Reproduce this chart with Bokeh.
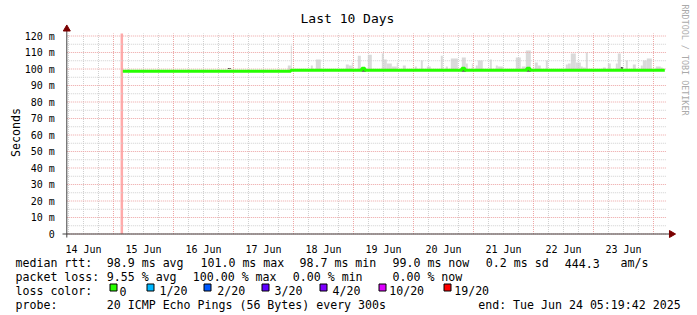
import math
import pandas as pd
from bokeh.plotting import figure
from bokeh.models import Range1d, FixedTicker, CustomJSTickFormatter, ColumnDataSource
from bokeh.core.properties import value
from bokeh.embed import file_html
from bokeh.resources import INLINE

# ---------------- data ----------------
title_text = "Last 10 Days"
y_axis_label = "Seconds"
watermark = "RRDTOOL / TOBI OETIKER"
graph_start = "2025-06-14 05:19:42"
graph_end = "2025-06-24 05:19:42"

day_tick_times = ["2025-06-14 12:00", "2025-06-15 12:00", "2025-06-16 12:00", "2025-06-17 12:00",
                  "2025-06-18 12:00", "2025-06-19 12:00", "2025-06-20 12:00", "2025-06-21 12:00",
                  "2025-06-22 12:00", "2025-06-23 12:00"]
day_labels = ["14 Jun", "15 Jun", "16 Jun", "17 Jun", "18 Jun", "19 Jun", "20 Jun", "21 Jun", "22 Jun", "23 Jun"]

y_ticks_s = [0.00, 0.01, 0.02, 0.03, 0.04, 0.05, 0.06, 0.07, 0.08, 0.09, 0.10, 0.11, 0.12]
y_tick_labels = ["0", "10 m", "20 m", "30 m", "40 m", "50 m", "60 m", "70 m", "80 m", "90 m",
                 "100 m", "110 m", "120 m"]

# median rtt (ms), step series
median_time = ["2025-06-15 03:44", "2025-06-17 22:56", "2025-06-19 03:20", "2025-06-19 04:32",
               "2025-06-20 19:20", "2025-06-20 20:32", "2025-06-21 21:20", "2025-06-21 22:32",
               "2025-06-24 04:32"]
median_ms = [98.7, 99.3, 100.5, 99.3, 100.5, 99.3, 100.5, 99.3, 99.3]

# smoke (spread of ping times above the median), ms
smoke_time = ["2025-06-17 22:20", "2025-06-17 23:08", "2025-06-18 07:20", "2025-06-18 09:56",
              "2025-06-18 21:32", "2025-06-18 22:44", "2025-06-18 23:32", "2025-06-19 02:20",
              "2025-06-19 06:32", "2025-06-19 11:44", "2025-06-19 12:44", "2025-06-19 14:20",
              "2025-06-19 16:20", "2025-06-19 17:32", "2025-06-19 20:20", "2025-06-20 00:56",
              "2025-06-20 03:20", "2025-06-20 06:08", "2025-06-20 11:20", "2025-06-20 13:20",
              "2025-06-20 16:20", "2025-06-20 20:08", "2025-06-20 21:20", "2025-06-20 23:32",
              "2025-06-21 01:20", "2025-06-21 02:44", "2025-06-21 06:56", "2025-06-21 09:20",
              "2025-06-21 10:44", "2025-06-21 17:56", "2025-06-21 20:08", "2025-06-21 21:56",
              "2025-06-22 01:08", "2025-06-22 02:20", "2025-06-22 05:20", "2025-06-22 13:20",
              "2025-06-22 14:20", "2025-06-22 15:56", "2025-06-22 17:56", "2025-06-22 19:20",
              "2025-06-22 20:20", "2025-06-22 21:20", "2025-06-23 04:20", "2025-06-23 06:20",
              "2025-06-23 09:20", "2025-06-23 10:20", "2025-06-23 13:20", "2025-06-23 16:20",
              "2025-06-23 19:20", "2025-06-23 20:32", "2025-06-23 22:20", "2025-06-24 01:56",
              "2025-06-24 03:20"]
smoke_span_min = [72, 24, 48, 120, 72, 72, 24, 72, 96, 48, 72, 120, 120, 24, 72, 48, 48, 96, 48, 48,
                  168, 96, 48, 24, 48, 120, 48, 48, 120, 120, 96, 120, 72, 72, 48, 48, 72, 120, 120, 48,
                  72, 48, 72, 72, 48, 72, 48, 72, 48, 96, 120, 120, 48]
smoke_top_ms = [102.1, 114.2, 102.1, 105.7, 102.7, 102.1, 103.9, 108.1, 108.7, 109.4, 105.7, 103.3,
                101.5, 103.9, 102.1, 101.5, 105.1, 101.5, 108.1, 101.5, 106.3, 106.9, 103.3, 103.3,
                102.1, 105.1, 105.7, 102.1, 101.5, 106.9, 101.5, 111.2, 103.9, 102.1, 105.1, 102.7,
                103.3, 109.4, 103.9, 101.5, 100.9, 110.0, 100.9, 103.3, 103.3, 109.4, 105.1, 102.7,
                102.1, 105.1, 106.3, 101.5, 100.9]
smoke_base_ms = 99.0

# dense smoke spots
dark_time = ["2025-06-15 03:32", "2025-06-16 22:20", "2025-06-19 04:08", "2025-06-20 20:08",
             "2025-06-21 22:08", "2025-06-23 11:20"]
dark_span_min = [24, 72, 96, 96, 96, 48]
dark_lo_ms = [98.3, 100.0, 98.4, 98.4, 98.4, 99.8]
dark_hi_ms = [99.0, 100.6, 100.6, 100.6, 100.6, 101.2]

# packet loss event
loss_time = ["2025-06-15 03:20"]
loss_span_min = [60]
loss_pct = [100.0]

# legend content
rtt_texts = ["98.9 ms avg", "101.0 ms max", "98.7 ms min", "99.0 ms now", "0.2 ms sd", "444.3", "am/s"]
loss_texts = ["9.55 % avg", "100.00 % max", "0.00 % min", "0.00 % now"]
loss_color_labels = ["0", "1/20", "2/20", "3/20", "4/20", "10/20", "19/20"]
loss_color_values = ["#26ff00", "#00b8ff", "#0059ff", "#5e00ff", "#7e00ff", "#dd00ff", "#ff0000"]
probe_text = "20 ICMP Echo Pings (56 Bytes) every 300s"
end_text = "end: Tue Jun 24 05:19:42 2025"

# ---------------- canvas <-> data mapping (layout) ----------------
W, H = 697, 315
PX0 = 66.3            # canvas x of graph_start
MIN_PER_PX = 24.0     # 10 days over 600 px
PY0 = 233.5           # canvas y of 0 s
PX_PER_S = 1650.0     # 198 px per 120 ms
MONO = "DejaVu Sans Mono"
t_start = pd.Timestamp(graph_start)
t_end = pd.Timestamp(graph_end)


def X(px):
    return t_start + pd.Timedelta(minutes=(px - PX0) * MIN_PER_PX)


def Y(py):
    return (PY0 - py) / PX_PER_S


def ms(t):
    return pd.Timestamp(t).value // 10**6


plot_top = Y(33)

p = figure(width=W, height=H, x_axis_type="datetime",
           x_range=Range1d(X(0), X(W)), y_range=Range1d(Y(H), Y(0)),
           output_backend="svg", toolbar_location=None,
           min_border_left=0, min_border_right=0, min_border_top=0, min_border_bottom=0)
p.title.visible = False
p.outline_line_color = None
p.background_fill_color = "white"
p.border_fill_color = "white"
p.xgrid.visible = False
p.ygrid.visible = False

# axes drawn at fixed locations inside the canvas
yax = p.yaxis[0]
yax.fixed_location = ms(t_start)
yax.ticker = FixedTicker(ticks=y_ticks_s, minor_ticks=[])
yax.formatter = CustomJSTickFormatter(args=dict(labels=y_tick_labels),
                                      code="return labels[Math.round(tick*100)];")
xax = p.xaxis[0]
xax.fixed_location = 0
noon_ms = [ms(t) for t in day_tick_times]
xax.ticker = FixedTicker(ticks=noon_ms, minor_ticks=[])
xax.formatter = CustomJSTickFormatter(args=dict(labels=day_labels, t0=noon_ms[0]),
                                      code="return labels[Math.round((tick - t0)/86400000)];")
for ax, so in ((yax, 6), (xax, 4)):
    ax.major_tick_line_color = None
    ax.minor_tick_line_color = None
    ax.axis_line_color = None
    ax.major_label_text_font = MONO
    ax.major_label_text_font_size = "10px"
    ax.major_label_text_color = "black"
    ax.major_label_standoff = so

# smoke
st = pd.to_datetime(smoke_time)
sspan = pd.to_timedelta(smoke_span_min, unit="min")
p.quad(left=st - sspan / 2, right=st + sspan / 2,
       bottom=[smoke_base_ms / 1000] * len(smoke_time), top=[v / 1000 for v in smoke_top_ms],
       fill_color="#dadada", line_color=None)

dt = pd.to_datetime(dark_time)
dspan = pd.to_timedelta(dark_span_min, unit="min")
p.quad(left=dt - dspan / 2, right=dt + dspan / 2,
       bottom=[v / 1000 for v in dark_lo_ms], top=[v / 1000 for v in dark_hi_ms],
       fill_color="#4a4a4a", line_color=None)

lt = pd.to_datetime(loss_time)
lspan = pd.to_timedelta(loss_span_min, unit="min")
p.quad(left=lt - lspan / 2, right=lt + lspan / 2, bottom=[0] * len(loss_pct),
       top=[plot_top * v / 100 for v in loss_pct], fill_color="#ffaaaa", line_color=None)

# grid (dotted, limited to the graph area)
midnights = list(pd.date_range("2025-06-15", "2025-06-24", freq="1D"))
six_h = [t for t in pd.date_range("2025-06-14 06:00", "2025-06-24 00:00", freq="6h") if t.hour != 0]
y_minor = [v + 0.005 for v in y_ticks_s[:-1]]
grid_minor = "#cfcfcf"
grid_major = "#eda5a5"
p.segment(x0=six_h, x1=six_h, y0=[0] * len(six_h), y1=[plot_top] * len(six_h),
          line_color=grid_minor, line_dash="1 1", line_width=1)
p.segment(x0=[t_start] * len(y_minor), x1=[t_end] * len(y_minor), y0=y_minor, y1=y_minor,
          line_color=grid_minor, line_dash="1 1", line_width=1)
p.segment(x0=midnights, x1=midnights, y0=[0] * len(midnights), y1=[plot_top] * len(midnights),
          line_color=grid_major, line_dash="1 1", line_width=1)
p.segment(x0=[t_start] * len(y_ticks_s), x1=[t_end] * len(y_ticks_s), y0=y_ticks_s, y1=y_ticks_s,
          line_color=grid_major, line_dash="1 1", line_width=1)

# median line
p.step(x=pd.to_datetime(median_time), y=[v / 1000 for v in median_ms], mode="after",
       line_width=3, line_color=loss_color_values[0])

# axis lines with arrow heads
p.line(x=[X(62), X(670)], y=[0, 0], line_color="#404040", line_width=1)
p.line(x=[t_start, t_start], y=[Y(237), Y(30)], line_color="#404040", line_width=1)
p.scatter(x=[X(671)], y=[0], marker="triangle", size=7, angle=-math.pi / 2,
          fill_color="#7a0000", line_color="#7a0000")
p.scatter(x=[t_start], y=[Y(28.5)], marker="triangle", size=7,
          fill_color="#7a0000", line_color="#7a0000")


def add_text(txt, px, py, size="11.6px", color="black", angle=0.0, align="left", baseline="alphabetic"):
    p.text(x=[X(px)], y=[Y(py)], text=[txt], text_font=value(MONO), text_font_size=size,
           text_color=color, angle=angle, text_align=align, text_baseline=baseline)


# title, axis label, watermark
add_text(title_text, 300, 18, size="13px")
add_text(y_axis_label, 15.5, 132, angle=math.pi / 2, align="center")
add_text(watermark, 684, 59.5, size="8.4px", color="#aaaaaa", angle=-math.pi / 2, align="center")

# legend
line_base = [262.5, 276.5, 290.5, 304.5]
add_text("median rtt:", 15, line_base[0])
for txt, x in zip(rtt_texts, [106.3, 200, 299, 392, 485.3, 564.3, 620]):
    add_text(txt, x, line_base[0])
add_text("packet loss:", 15, line_base[1])
for txt, x in zip(loss_texts, [106.3, 192.3, 292.3, 392]):
    add_text(txt, x, line_base[1])
add_text("loss color:", 15, line_base[2])
box_x = [109, 146, 203, 261, 319, 378, 443]
text_x = [119, 159, 216.7, 274, 332, 388.7, 453.7]
p.quad(left=[X(b + 0.5) for b in box_x], right=[X(b + 7.5) for b in box_x],
       top=[Y(283.5)] * len(box_x), bottom=[Y(290.5)] * len(box_x),
       fill_color=loss_color_values, line_color="black", line_width=1)
for lab, tx in zip(loss_color_labels, text_x):
    add_text(lab, tx, line_base[2])
add_text("probe:", 15, line_base[3])
add_text(probe_text, 106.3, line_base[3])
add_text(end_text, 477.7, line_base[3])

open("out.html", "w").write(file_html(p, INLINE))
